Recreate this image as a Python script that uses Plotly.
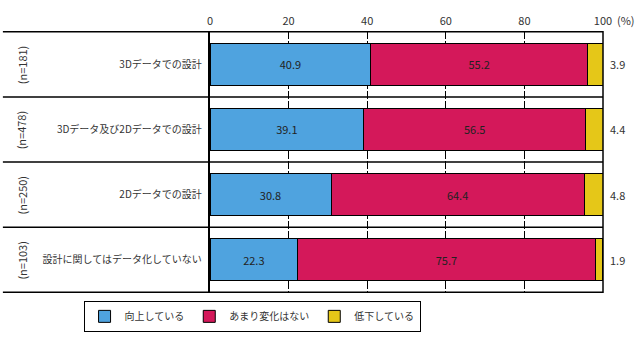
import plotly.graph_objects as go

categories = ["3Dデータでの設計", "3Dデータ及び2Dデータでの設計", "2Dデータでの設計", "設計に関してはデータ化していない"]
n_labels = ["(n=181)", "(n=478)", "(n=250)", "(n=103)"]
series_names = ["向上している", "あまり変化はない", "低下している"]
improved = [40.9, 39.1, 30.8, 22.3]
unchanged = [55.2, 56.5, 64.4, 75.7]
declined = [3.9, 4.4, 4.8, 1.9]
colors = ["#4FA3DF", "#D4185A", "#E5C718"]
tick_vals = [0, 20, 40, 60, 80, 100]

FONT = "Noto Sans CJK JP"
fig = go.Figure()
for name, vals, col, show_text in zip(series_names, [improved, unchanged, declined], colors, [True, True, False]):
    fig.add_trace(go.Bar(
        y=categories, x=vals, name=name, orientation="h",
        marker=dict(color=col, line=dict(color="#000000", width=1)),
        text=[f"{v:.1f}" for v in vals] if show_text else None,
        textposition="inside", insidetextanchor="middle",
        textfont=dict(color="#222222", size=11, family=FONT),
        hoverinfo="skip",
    ))

annotations = []
for c, v in zip(categories, declined):
    annotations.append(dict(x=100, y=c, xref="x", yref="y", text=f"{v:.1f}", showarrow=False,
                            xanchor="left", xshift=5, font=dict(size=11, color="#333333", family=FONT)))
for c, n in zip(categories, n_labels):
    annotations.append(dict(x=-0.504, y=c, xref="paper", yref="y", text=n, showarrow=False,
                            textangle=-90, font=dict(size=11, color="#333333", family=FONT)))
annotations.append(dict(x=100, y=1, xref="x", yref="paper", text="(%)", showarrow=False,
                        xanchor="left", yanchor="bottom", xshift=12, yshift=1,
                        font=dict(size=11, color="#333333", family=FONT)))

shapes = []
for i in range(len(categories) + 1):
    shapes.append(dict(type="line", xref="paper", yref="y", x0=-0.527, x1=1, y0=i - 0.5, y1=i - 0.5,
                       line=dict(color="#000000", width=1.5)))
shapes.append(dict(type="line", xref="paper", yref="paper", x0=1, x1=1, y0=0, y1=1,
                   line=dict(color="#000000", width=1.5)))

fig.update_layout(
    barmode="stack", bargap=0.36,
    width=640, height=344,
    margin=dict(l=210, r=37, t=25, b=49),
    paper_bgcolor="white", plot_bgcolor="white",
    font=dict(family=FONT, size=11, color="#333333"),
    xaxis=dict(side="top", range=[0, 100], tickvals=tick_vals, ticktext=[str(t) for t in tick_vals],
               showgrid=True, gridcolor="#000000", gridwidth=1, griddash="8px,2px",
               zeroline=False, showline=False, ticks="", ticklen=0, ticklabelstandoff=3,
               tickfont=dict(size=11, color="#333333", family=FONT), fixedrange=True),
    yaxis=dict(categoryorder="array", categoryarray=categories, autorange="reversed",
               showline=True, linecolor="#000000", linewidth=1.5, ticks="",
               tickfont=dict(size=10, color="#333333", family=FONT), ticksuffix="  ", showgrid=False),
    legend=dict(orientation="h", x=0.107, y=-0.03, xanchor="center", yanchor="top",
                bordercolor="#000000", borderwidth=1, font=dict(size=10, family=FONT, color="#333333"),
                traceorder="normal", itemwidth=30),
    annotations=annotations, shapes=shapes,
)
fig.write_html("out.html")
